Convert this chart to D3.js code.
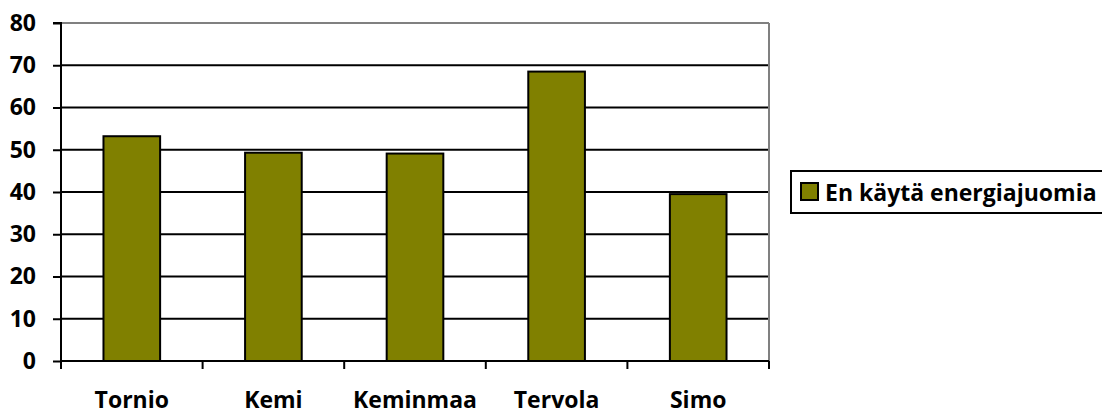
<!DOCTYPE html>
<html><head><meta charset="utf-8">
<script src="https://cdn.jsdelivr.net/npm/d3@7"></script>
<style>body{margin:0;background:#fff}svg{display:block}text{font-family:"Open Sans",Lato,sans-serif;font-weight:bold;fill:#000}</style>
</head><body>
<script>
const categories = ["Tornio","Kemi","Keminmaa","Tervola","Simo"];
const values = [53.2, 49.3, 49.1, 68.5, 39.5];
const yTicks = [0,10,20,30,40,50,60,70,80];
const seriesName = "En käytä energiajuomia";

const W=1102,H=414;
const L=61,R=769,T=23,B=361;
const FS="23px";
const svg=d3.select("body").append("svg").attr("width",W).attr("height",H);
const x=d3.scaleBand().domain(categories).range([L,R]).padding(0);
const y=d3.scaleLinear().domain([0,80]).range([B,T]);

svg.append("g").selectAll("line").data(yTicks.filter(d=>d>0&&d<80)).join("line")
 .attr("x1",L).attr("x2",R).attr("y1",d=>y(d)).attr("y2",d=>y(d))
 .attr("stroke","#000").attr("stroke-width",2);
svg.append("line").attr("x1",L).attr("x2",R).attr("y1",y(80)).attr("y2",y(80)).attr("stroke","#808080").attr("stroke-width",2);
svg.append("line").attr("x1",R).attr("x2",R).attr("y1",T).attr("y2",B).attr("stroke","#808080").attr("stroke-width",2);

const bw=x.bandwidth()*0.4;
svg.append("g").selectAll("rect").data(categories).join("rect")
 .attr("x",(d)=>x(d)+x.bandwidth()/2-bw/2)
 .attr("y",(d,i)=>y(values[i]))
 .attr("width",bw)
 .attr("height",(d,i)=>B-y(values[i]))
 .attr("fill","#808000").attr("stroke","#000").attr("stroke-width",2);

const ya=svg.append("g").attr("transform",`translate(${L},0)`)
 .call(d3.axisLeft(y).tickValues(yTicks).tickSize(8).tickPadding(17));
ya.select(".domain").attr("stroke","#000").attr("stroke-width",2).attr("d",`M-8,${T}H0V${B}`);
ya.selectAll(".tick line").attr("stroke","#000").attr("stroke-width",2);
ya.selectAll(".tick text").style("font-size",FS).style("font-family","'Open Sans',Lato,sans-serif").style("font-weight","bold").attr("fill","#000");

const xa=svg.append("g").attr("transform",`translate(0,${B})`)
 .call(d3.axisBottom(x).tickSize(0).tickPadding(31));
xa.select(".domain").attr("stroke","#000").attr("stroke-width",2).attr("d",`M${L},0H${R}`);
xa.selectAll(".tick text").style("font-size",FS).style("font-family","'Open Sans',Lato,sans-serif").style("font-weight","bold").attr("fill","#000");
const edges=categories.map(c=>x(c)).concat([R]);
xa.append("g").selectAll("line").data(edges).join("line")
 .attr("x1",d=>d).attr("x2",d=>d).attr("y1",0).attr("y2",8).attr("stroke","#000").attr("stroke-width",2);

const lg=svg.append("g");
lg.append("rect").attr("x",791).attr("y",171).attr("width",320).attr("height",42).attr("fill","#fff").attr("stroke","#000").attr("stroke-width",2);
lg.append("rect").attr("x",801).attr("y",183).attr("width",17).attr("height",17).attr("fill","#808000").attr("stroke","#000").attr("stroke-width",2);
lg.append("text").attr("x",825).attr("y",201).style("font-size",FS).text(seriesName);
</script>
</body></html>
